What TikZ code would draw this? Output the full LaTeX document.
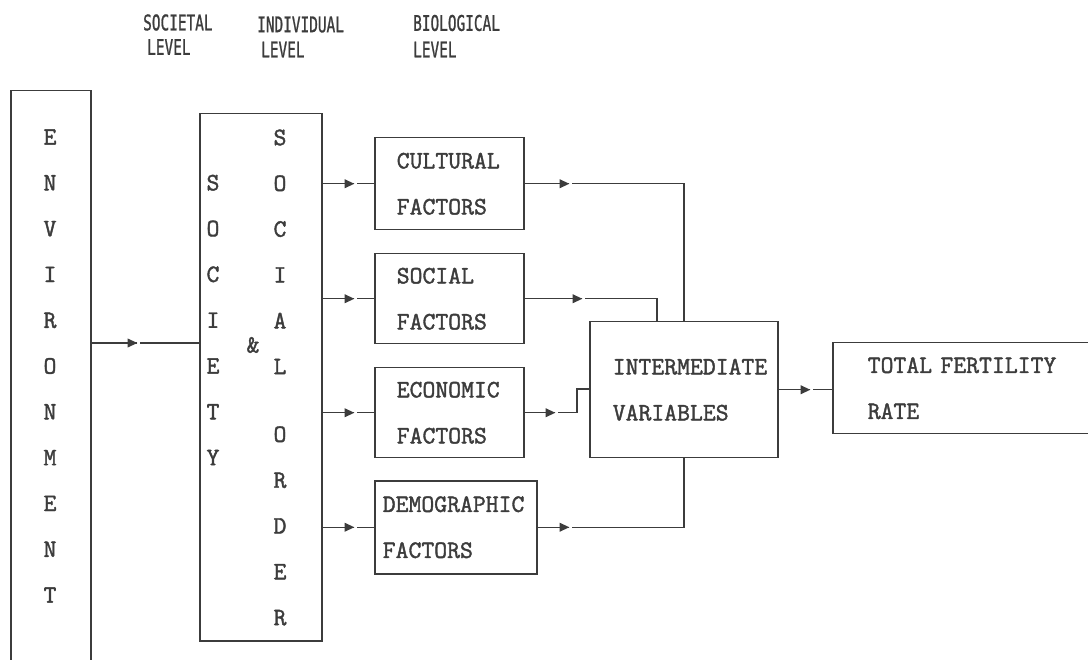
\documentclass[tikz,border=0pt]{standalone}
\usepackage{fontspec}
\usetikzlibrary{arrows.meta,decorations.markings}
\newfontfamily\hdrfont[FakeBold=1.2]{DejaVu Sans Mono}
\newfontfamily\cmono[FakeBold=1.6]{Latin Modern Mono}
\definecolor{ink}{RGB}{60,60,60}
\newcommand\hdrtext[1]{\scalebox{0.67}[1]{#1}}
\begin{document}
\begin{tikzpicture}[x=1pt,y=-1pt,
  box/.style={draw=ink, line width=1.5pt, rectangle, inner sep=0pt},
  conn/.style={draw=ink, color=ink, line width=1.5pt},
  txt/.style={text=ink, font=\fontsize{25}{46}\selectfont\cmono},
  coltxt/.style={text=ink, align=center, inner sep=0pt, font=\fontsize{25}{45.8}\selectfont\cmono},
  hdr/.style={text=ink, inner sep=0pt, anchor=west, font=\hdrfont\fontsize{21.5}{21.5}\selectfont},
  fbox/.style={box, txt, anchor=north west, align=left},
  arrowat/.style={postaction={decorate}, decoration={markings, mark=at position #1 with {\fill[white] (0.5pt,-2pt) rectangle (3.5pt,2pt); \fill[ink] (-9pt,-4.6pt) -- (0.8pt,0pt) -- (-9pt,4.6pt) -- cycle;}}}]
\clip (0,0) rectangle (1088,660);
\fill[white] (0,0) rectangle (1088,660);

% header labels
\node[hdr] (h1a) at (143,22.5) {\hdrtext{SOCIETAL}};
\node[hdr] (h1b) at (147,47) {\hdrtext{LEVEL}};
\node[hdr] (h2a) at (257,24.5) {\hdrtext{INDIVIDUAL}};
\node[hdr] (h2b) at (261,49.5) {\hdrtext{LEVEL}};
\node[hdr] (h3a) at (413,23) {\hdrtext{BIOLOGICAL}};
\node[hdr] (h3b) at (413,49.5) {\hdrtext{LEVEL}};

% boxes
\node[box, anchor=north west, minimum width=80pt, minimum height=620pt] (env) at (10,90) {};
\node[box, anchor=north west, minimum width=122pt, minimum height=527pt] (soc) at (199,113) {};
\node[fbox, minimum height=92pt, text width=105pt, inner xsep=22pt] (cul) at (374,137) {CULTURAL\\FACTORS};
\node[fbox, minimum height=90pt, text width=105pt, inner xsep=22pt] (socf) at (374,253) {SOCIAL\\FACTORS};
\node[fbox, minimum height=90pt, text width=105pt, inner xsep=22pt] (eco) at (374,367) {ECONOMIC\\FACTORS};
\node[fbox, minimum height=93pt, text width=146pt, inner xsep=8pt] (dem) at (374,480) {\mbox{DEMOGRAPHIC}\\FACTORS};
\node[fbox, minimum height=136pt, text width=142pt, inner xsep=23pt] (inter) at (589,321) {\mbox{INTERMEDIATE}\\VARIABLES};
\node[fbox, minimum height=91pt, text width=230pt, inner xsep=35pt] (tfr) at (832,342) {\mbox{TOTAL FERTILITY}\\RATE};

% vertical letters
\node[coltxt] (envtxt) at (50,366) {E\\N\\V\\I\\R\\O\\N\\M\\E\\N\\T};
\node[coltxt] (socl) at (213,320) {S\\O\\C\\I\\E\\T\\Y};
\node[coltxt] (socr) at (280,377.5) {S\\O\\C\\I\\A\\L\\[22pt]O\\R\\D\\E\\R};
\node[coltxt] (amp) at (253,345) {\&};

% connectors
\coordinate (r0) at (0,343);
\coordinate (sx) at (657,0);
\coordinate (ex) at (577,389);
\draw[conn, arrowat=45pt] (env.east |- r0) -- (soc.west |- r0);
\draw[conn, arrowat=31pt] (soc.east |- cul.west) -- (cul.west);
\draw[conn, arrowat=31pt] (soc.east |- socf.west) -- (socf.west);
\draw[conn, arrowat=31pt] (soc.east |- eco.west) -- (eco.west);
\draw[conn, arrowat=31pt] (soc.east |- dem.west) -- (dem.west);
\draw[conn, arrowat=44pt] (cul.east) -| (inter.north);
\draw[conn, arrowat=57pt] (socf.east) -| (sx |- inter.north);
\draw[conn, arrowat=30pt] (eco.east) -| (ex) -- (ex -| inter.west);
\draw[conn, arrowat=31pt] (dem.east) -| (inter.south);
\draw[conn, arrowat=31pt] (inter.east) -- (inter.east -| tfr.west);
\end{tikzpicture}
\end{document}
